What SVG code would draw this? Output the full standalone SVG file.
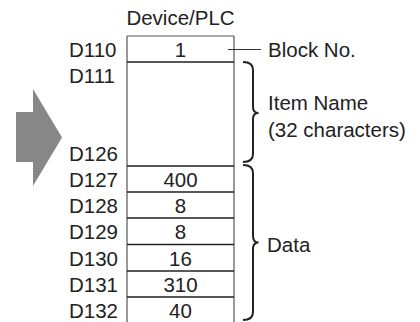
<svg xmlns="http://www.w3.org/2000/svg" width="420" height="322" viewBox="0 0 420 322">
<style>
  text { font-family: "Liberation Sans", Arial, sans-serif; font-size: 20.5px; fill: #222; }
  .lbl { text-anchor: start; }
  .val { text-anchor: middle; }
  .div { stroke: #222; stroke-width: 1.6; fill: none; }
  .side { stroke: #555; stroke-width: 1.2; fill: none; }
  .brace { stroke: #222; stroke-width: 2; fill: none; }
  .lead { stroke: #333; stroke-width: 1.2; fill: none; }
</style>
<rect width="420" height="322" fill="#fff"/>
<g id="arrow">
  <path d="M16,112 L33,112 L33,89 L62,137.5 L33,186 L33,162 L16,162 Z" fill="#878787"/>
</g>
<g id="header">
  <text class="val" x="180.5" y="25">Device/PLC</text>
</g>
<g id="table">
  <path class="side" d="M127,36 L234,36 M127,36 L127,323 M234,36 L234,323"/>
  <path class="div" d="M127,62 H234 M127,166 H234 M127,192 H234 M127,218 H234 M127,244.5 H234 M127,271 H234 M127,297 H234 M127,323 H234"/>
</g>
<g id="row-D110">
  <text class="lbl" x="69" y="57">D110</text>
  <text class="val" x="180.5" y="57">1</text>
</g>
<g id="row-D111">
  <text class="lbl" x="69" y="83">D111</text>
</g>
<g id="row-D126">
  <text class="lbl" x="69" y="161">D126</text>
</g>
<g id="row-D127">
  <text class="lbl" x="69" y="187">D127</text>
  <text class="val" x="180.5" y="187">400</text>
</g>
<g id="row-D128">
  <text class="lbl" x="69" y="213">D128</text>
  <text class="val" x="180.5" y="213">8</text>
</g>
<g id="row-D129">
  <text class="lbl" x="69" y="239">D129</text>
  <text class="val" x="180.5" y="239">8</text>
</g>
<g id="row-D130">
  <text class="lbl" x="69" y="265.5">D130</text>
  <text class="val" x="180.5" y="265.5">16</text>
</g>
<g id="row-D131">
  <text class="lbl" x="69" y="292">D131</text>
  <text class="val" x="180.5" y="292">310</text>
</g>
<g id="row-D132">
  <text class="lbl" x="69" y="318">D132</text>
  <text class="val" x="180.5" y="318">40</text>
</g>
<g id="connectors">
  <path class="lead" d="M228,49.5 H261"/>
  <path class="brace" d="M243,62 Q253,62 253,70 L253,107 Q253,113 258.5,113 Q253,113 253,119 L253,154 Q253,162 243,162"/>
  <path class="brace" d="M243,165 Q253,165 253,173 L253,236 Q253,242.5 258.5,242.5 Q253,242.5 253,249 L253,312 Q253,320 243,320"/>
</g>
<g id="label-block">
  <text class="lbl" x="268" y="57">Block No.</text>
</g>
<g id="label-item">
  <text class="lbl" x="268" y="110">Item Name</text>
  <text class="lbl" x="268" y="136.5">(32 characters)</text>
</g>
<g id="label-data">
  <text class="lbl" x="267" y="251.5">Data</text>
</g>
</svg>
